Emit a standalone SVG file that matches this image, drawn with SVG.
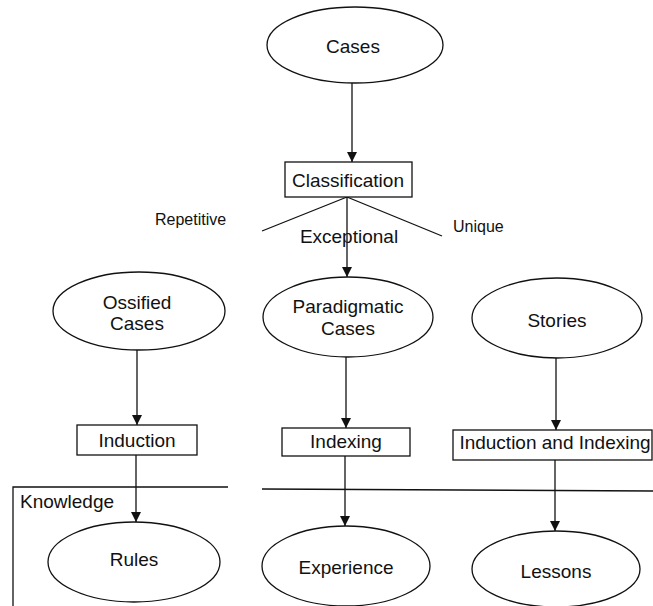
<svg xmlns="http://www.w3.org/2000/svg" width="653" height="606" viewBox="0 0 653 606">
  <style>
    .shape { fill: #ffffff; stroke: #111111; stroke-width: 1.3; }
    .line { fill: none; stroke: #111111; stroke-width: 1.3; }
    .label { font-family: "Liberation Sans", Arial, sans-serif; font-size: 19px; fill: #111111; text-anchor: middle; }
    .small { font-family: "Liberation Sans", Arial, sans-serif; font-size: 16px; fill: #111111; }
  </style>
  <defs>
    <marker id="arrow" viewBox="0 0 10 12" refX="10" refY="6" markerWidth="10" markerHeight="12" markerUnits="userSpaceOnUse" orient="auto">
      <path d="M0,1 L10,6 L0,11 Z" fill="#111111"/>
    </marker>
  </defs>

  <rect width="653" height="606" fill="#ffffff"/>

  <!-- Knowledge frame -->
  <g id="knowledge">
    <path class="line" d="M13,606 L13,487 L228,487"/>
    <path class="line" d="M262,489 L653,491"/>
    <text class="label" x="20" y="508" style="text-anchor:start">Knowledge</text>
  </g>

  <!-- connectors -->
  <g id="connectors">
    <line class="line" x1="352" y1="83" x2="352" y2="162" marker-end="url(#arrow)"/>
    <line class="line" x1="347" y1="197" x2="262" y2="231"/>
    <line class="line" x1="347" y1="197" x2="442" y2="236"/>
    <line class="line" x1="347" y1="197" x2="347" y2="277" marker-end="url(#arrow)"/>
    <line class="line" x1="137" y1="350" x2="137" y2="425" marker-end="url(#arrow)"/>
    <line class="line" x1="346" y1="357" x2="346" y2="428" marker-end="url(#arrow)"/>
    <line class="line" x1="556" y1="358" x2="556" y2="430" marker-end="url(#arrow)"/>
    <line class="line" x1="136" y1="455" x2="136" y2="522" marker-end="url(#arrow)"/>
    <line class="line" x1="345" y1="456" x2="345" y2="526" marker-end="url(#arrow)"/>
    <line class="line" x1="555" y1="460" x2="555" y2="531" marker-end="url(#arrow)"/>
    <text class="small" x="155" y="225">Repetitive</text>
    <text class="label" x="349" y="243">Exceptional</text>
    <text class="small" x="453" y="232">Unique</text>
  </g>

  <g id="cases">
    <ellipse class="shape" cx="355" cy="45" rx="88" ry="38"/>
    <text class="label" x="353" y="53">Cases</text>
  </g>

  <g id="classification">
    <rect class="shape" x="285" y="162" width="127" height="35"/>
    <text class="label" x="348" y="187">Classification</text>
  </g>

  <g id="ossified">
    <ellipse class="shape" cx="139" cy="311" rx="86" ry="39"/>
    <text class="label" x="137" y="309">Ossified</text>
    <text class="label" x="137" y="330">Cases</text>
  </g>

  <g id="paradigmatic">
    <ellipse class="shape" cx="348" cy="317" rx="85" ry="40"/>
    <text class="label" x="348" y="313">Paradigmatic</text>
    <text class="label" x="348" y="335">Cases</text>
  </g>

  <g id="stories">
    <ellipse class="shape" cx="557" cy="318" rx="85" ry="40"/>
    <text class="label" x="557" y="327">Stories</text>
  </g>

  <g id="induction">
    <rect class="shape" x="77" y="425" width="120" height="30"/>
    <text class="label" x="137" y="447">Induction</text>
  </g>

  <g id="indexing">
    <rect class="shape" x="282" y="428" width="128" height="28"/>
    <text class="label" x="346" y="448">Indexing</text>
  </g>

  <g id="induction-indexing">
    <rect class="shape" x="453" y="430" width="199" height="30"/>
    <text class="label" x="555" y="449">Induction and Indexing</text>
  </g>

  <g id="rules">
    <ellipse class="shape" cx="134" cy="562" rx="86" ry="40"/>
    <text class="label" x="134" y="566">Rules</text>
  </g>

  <g id="experience">
    <ellipse class="shape" cx="346" cy="566" rx="84" ry="40"/>
    <text class="label" x="346" y="574">Experience</text>
  </g>

  <g id="lessons">
    <ellipse class="shape" cx="556" cy="569" rx="84" ry="38"/>
    <text class="label" x="556" y="578">Lessons</text>
  </g>
</svg>
